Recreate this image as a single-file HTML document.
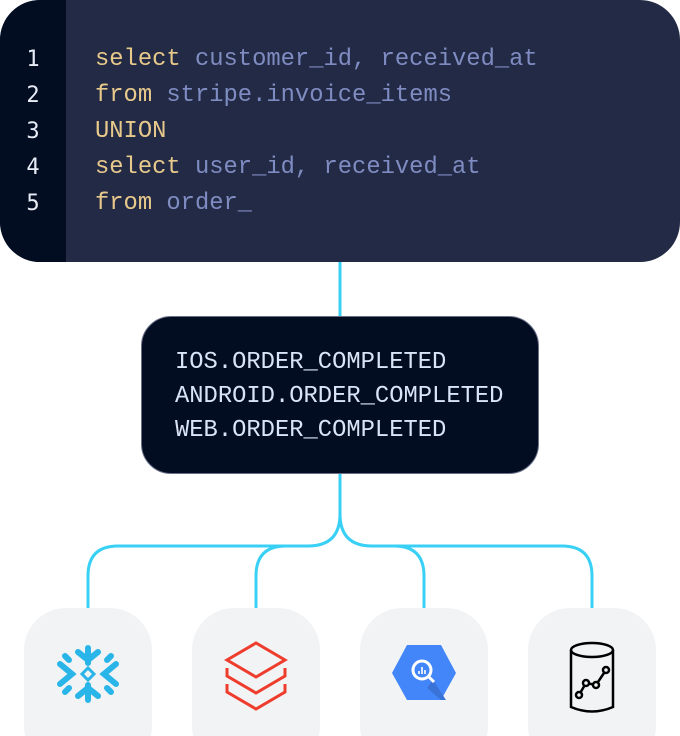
<!DOCTYPE html>
<html><head><meta charset="utf-8"><style>
html,body{margin:0;padding:0;background:#fff;width:680px;height:736px;overflow:hidden;position:relative;font-family:"Liberation Mono",monospace}
.code{position:absolute;left:0;top:0;width:680px;height:262px;background:#232a45;border-radius:40px;overflow:hidden}
.gut{position:absolute;left:0;top:0;width:66px;height:262px;background:#020d22}
.ln{position:absolute;left:0;width:66px;text-align:center;color:#e8ecf6;font-size:22px;line-height:36px;top:42px;font-family:"DejaVu Sans Mono",monospace}
.src{position:absolute;left:95px;top:42px;font-size:23.8px;line-height:36px;color:#7f8cc2;white-space:pre}
.k{color:#e8c98c}
.mid{position:absolute;left:141px;top:316px;width:396px;height:156px;background:#020d22;border:1px solid #6b7088;border-radius:30px}
.mid div{position:absolute;left:33px;top:29px;font-size:23.8px;line-height:34px;color:#dbe3f6;white-space:pre}
.card{position:absolute;top:608px;width:128px;height:160px;background:#f1f3f5;border-radius:42px}
svg{position:absolute;left:0;top:0}
</style></head><body>
<div class="code"><div class="gut"></div>
<div class="ln">1<br>2<br>3<br>4<br>5</div>
<div class="src"><span class="k">select</span> customer_id, received_at
<span class="k">from</span> stripe.invoice_items
<span class="k">UNION</span>
<span class="k">select</span> user_id, received_at
<span class="k">from</span> order_</div></div>
<svg width="680" height="736">
<g fill="none" stroke="#38d0f5" stroke-width="3">
<path d="M340 262V318"/>
<path d="M340 472V514Q340 546 308 546H118Q88 546 88 576V608"/>
<path d="M340 514Q340 546 372 546H562Q592 546 592 576V608"/>
<path d="M286 546Q256 546 256 576V608"/>
<path d="M394 546Q424 546 424 576V608"/>
</g></svg>
<div class="mid"><div>IOS.ORDER_COMPLETED
ANDROID.ORDER_COMPLETED
WEB.ORDER_COMPLETED</div></div>
<div class="card" style="left:24px"></div>
<div class="card" style="left:192px"></div>
<div class="card" style="left:360px"></div>
<div class="card" style="left:528px"></div>
<svg width="680" height="736">
<g stroke="#29b5e8" stroke-width="6" stroke-linecap="round" fill="none">
<path d="M88 648V663M78 652L88 660L98 652"/>
<path d="M88 700V685M78 696L88 688L98 696"/>
<path d="M60 664L72 674L60 684"/>
<path d="M116 664L104 674L116 684"/>
<path d="M69 660l-4-4M107 660l4-4M69 688l-4 4M107 688l4 4"/>
<path d="M88 668l6 6l-6 6l-6-6z" stroke-width="3"/>
</g>
<g stroke="#ee3d2c" stroke-width="3" fill="none" stroke-linejoin="miter">
<path d="M256 677L227 660L256 643L285 660Z"/>
<path d="M227 668V676L256 693L285 676V668"/>
<path d="M227 684V692L256 709L285 692V684"/>
</g>
<path d="M392 673L407 645H441L456 673L441 700H407Z" fill="#4386fa"/>
<path d="M433 680L446 700H441L427 688Z" fill="#3a73d8"/>
<circle cx="422" cy="670" r="9" fill="none" stroke="#fff" stroke-width="3"/>
<path d="M428 676L434 682" stroke="#fff" stroke-width="3"/>
<path d="M419 671V674M422 667V674M425 670V674" stroke="#fff" stroke-width="1.6"/>
<g stroke="#000" stroke-width="2.5" fill="none">
<ellipse cx="592" cy="650" rx="21" ry="7"/>
<path d="M571 650V707Q592 716 613 707V650"/>
<path d="M579 695L586 683L596 685L606 670"/>
<circle cx="579" cy="695" r="3" fill="#f1f3f5"/><circle cx="586" cy="683" r="3" fill="#f1f3f5"/><circle cx="596" cy="685" r="3" fill="#f1f3f5"/><circle cx="606" cy="670" r="3" fill="#f1f3f5"/>
</g>
</svg>
</body></html>
